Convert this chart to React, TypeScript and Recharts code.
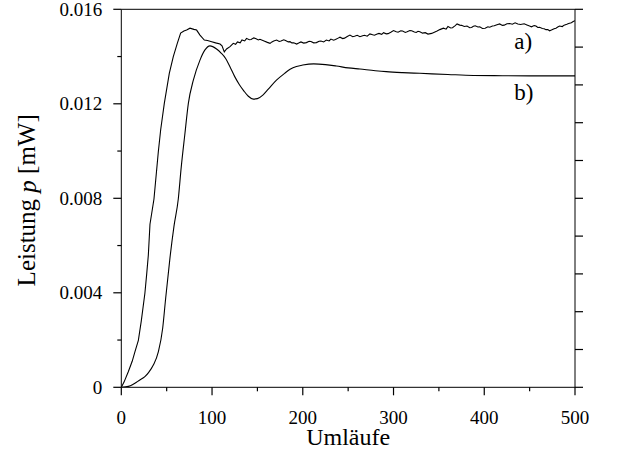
import React from 'react';
import { LineChart, Line, XAxis, YAxis, ReferenceDot } from 'recharts';

// curve a) (measured, noisy)
const umlaeufeA = [
  0, 3, 7.7, 12, 15, 18.8, 22, 26, 28, 29.8, 31.6, 36, 40.8, 43.4, 47.4, 52.9, 57.3, 61.7, 65.4, 69,
  72, 75.7, 80, 83, 86.7, 91.5, 95, 99.6, 104, 108.8, 111, 113.5, 116, 119.8, 123.4, 126, 128, 131, 133, 136,
  138, 141, 143, 146, 148, 151, 152.8, 156, 158, 161, 163.9, 166, 168, 171.2, 174, 176, 179, 181, 184, 185.9,
  188, 190, 193.3, 196, 198, 201, 204, 207, 209, 212, 215, 218, 220, 223, 226, 229, 231, 234, 236, 239,
  241, 244, 246, 249, 252, 255, 257, 260, 263, 266, 268, 271, 274, 277, 279, 282, 284, 287, 289, 292,
  294, 297, 300, 303, 305, 308, 310, 313, 315, 318, 320, 323, 325, 327, 329, 332, 335, 338, 342, 345,
  348, 351, 355, 358, 360, 363, 365, 368, 370, 373, 375, 378, 381, 384, 386, 388, 390, 393, 395, 398,
  401, 404, 406, 409, 411, 414, 417, 420, 422, 425, 428, 431, 434, 437, 440, 444, 447, 450, 452, 455,
  457, 459, 461, 464, 466, 468, 470, 472, 474, 477, 479, 481, 483, 486, 488, 491, 493, 496, 498, 500,
];
const leistungA = [
  0, 0.00022, 0.00066, 0.0011, 0.0015, 0.00199, 0.0028, 0.00398, 0.0048, 0.0056, 0.0069, 0.00797, 0.00997, 0.0109, 0.01202, 0.01329, 0.014, 0.01456, 0.01499, 0.01508,
  0.01512, 0.0152, 0.01515, 0.01512, 0.01491, 0.0147, 0.01468, 0.01463, 0.01458, 0.01453, 0.01445, 0.0142, 0.01432, 0.01442, 0.01456, 0.01452, 0.01462, 0.01458, 0.0147, 0.01466,
  0.01477, 0.01471, 0.01472, 0.01479, 0.01476, 0.0147, 0.01473, 0.01468, 0.01465, 0.0146, 0.01456, 0.01462, 0.01466, 0.0147, 0.01464, 0.01466, 0.01471, 0.01468, 0.01462, 0.01463,
  0.01458, 0.01458, 0.01453, 0.01458, 0.01462, 0.01457, 0.01459, 0.01465, 0.01464, 0.01458, 0.01459, 0.01465, 0.01466, 0.01462, 0.0147, 0.01466, 0.01474, 0.01469, 0.01472, 0.01478,
  0.01482, 0.01476, 0.01478, 0.01485, 0.01491, 0.01484, 0.01486, 0.0149, 0.01484, 0.01488, 0.0149, 0.01486, 0.01496, 0.01492, 0.0149, 0.01495, 0.01498, 0.01494, 0.01501, 0.01496,
  0.01497, 0.01503, 0.0151, 0.01505, 0.01503, 0.01509, 0.01508, 0.01502, 0.01505, 0.0151, 0.01509, 0.01504, 0.01502, 0.01507, 0.01505, 0.01499, 0.01501, 0.01495, 0.01498, 0.01503,
  0.01508, 0.01514, 0.0152, 0.01516, 0.01527, 0.01521, 0.01522, 0.01531, 0.01538, 0.01533, 0.01532, 0.01527, 0.01529, 0.01522, 0.01523, 0.01528, 0.0153, 0.01525, 0.01526, 0.01519,
  0.0152, 0.01526, 0.01524, 0.01529, 0.0153, 0.01535, 0.01538, 0.01532, 0.01533, 0.01539, 0.0154, 0.01537, 0.01543, 0.01538, 0.01536, 0.01539, 0.01534, 0.01529, 0.01526, 0.01531,
  0.01529, 0.01523, 0.01524, 0.01519, 0.01518, 0.01514, 0.01514, 0.01509, 0.01512, 0.01518, 0.0152, 0.01525, 0.01529, 0.01527, 0.01533, 0.01537, 0.0154, 0.01543, 0.01548, 0.01552,
];

// curve b) (simulation, smooth)
const umlaeufeB = [
  0, 5, 10, 15, 20, 26, 30, 35.3, 40.8, 45.6, 48.9, 53.7, 58, 62.8, 66, 70, 73.9, 79.4, 86.7, 92.2,
  97.7, 105, 110, 115, 120, 125, 130, 135, 140, 145.5, 150, 156, 162, 171, 180, 186, 193, 200, 212, 225,
  237, 250, 263, 280, 292, 310, 329, 360, 388, 420, 460, 500,
];
const leistungB = [
  0, 0.00002, 0.00007, 0.00017, 0.0003, 0.00045, 0.00062, 0.00094, 0.0015, 0.0025, 0.00377, 0.0055, 0.0068, 0.00797, 0.0093, 0.0107, 0.01202, 0.013, 0.01385, 0.01428,
  0.01445, 0.01432, 0.01415, 0.01392, 0.01355, 0.01315, 0.01282, 0.01255, 0.01232, 0.0122, 0.01222, 0.01237, 0.01262, 0.013, 0.01329, 0.01346, 0.01358, 0.01364, 0.01369, 0.01366,
  0.0136, 0.01352, 0.01347, 0.0134, 0.01336, 0.01332, 0.01329, 0.01324, 0.0132, 0.01319, 0.01318, 0.01318,
];

const xTicks = [0, 50, 100, 150, 200, 250, 300, 350, 400, 450, 500];
const yTicks = [0, 0.002, 0.004, 0.006, 0.008, 0.01, 0.012, 0.014, 0.016];
const yLabels = ['0', '', '0.004', '', '0.008', '', '0.012', '', '0.016'];
const topTicks = [0, 1, 2, 3, 4, 5, 6];
const rightTicks = [0, 1, 2, 3, 4, 5, 6, 7, 8, 9, 10];

const dataA = umlaeufeA.map((x, i) => ({ x, p: leistungA[i] }));
const dataB = umlaeufeB.map((x, i) => ({ x, p: leistungB[i] }));

const font = '"Liberation Serif", "Times New Roman", serif';
const ink = '#000';
const txt = { fontFamily: font };

const BottomTick = (props: any) => {
  const { x, y, payload } = props;
  const major = payload.value % 100 === 0;
  return (
    <g>
      <path d={`M${x},${y}V${y + (major ? 8 : 4)}`} stroke={ink} strokeWidth={1.2} />
      {major && (
        <text x={x} y={y + 36.5} textAnchor="middle" style={txt} fontSize={19} fill={ink}>
          {payload.value}
        </text>
      )}
    </g>
  );
};

const LeftTick = (props: any) => {
  const { x, y, index } = props;
  const label = yLabels[index];
  return (
    <g>
      <path d={`M${x - (label ? 8 : 4)},${y}H${x}`} stroke={ink} strokeWidth={1.2} />
      {label && (
        <text x={x - 19} y={y + 6.5} textAnchor="end" style={txt} fontSize={19} fill={ink}>
          {label}
        </text>
      )}
    </g>
  );
};

const TopTick = (props: any) => {
  const { x, y } = props;
  return <path d={`M${x},${y}V${y - 5}`} stroke={ink} strokeWidth={1.2} />;
};

const RightTick = (props: any) => {
  const { x, y } = props;
  return <path d={`M${x},${y}H${x + 8}`} stroke={ink} strokeWidth={1.2} />;
};

const renderXLabel = (props: any) => {
  const vb = props.viewBox;
  return (
    <text x={vb.x + vb.width / 2} y={vb.y + 58} textAnchor="middle" style={txt} fontSize={24} fill={ink}>
      Umläufe
    </text>
  );
};

const renderYLabel = (props: any) => {
  const vb = props.viewBox;
  const cx = 27;
  const cy = vb.y + vb.height / 2 + 2;
  return (
    <text
      x={cx}
      y={cy}
      transform={`rotate(-90, ${cx}, ${cy})`}
      textAnchor="middle"
      dominantBaseline="central"
      style={txt}
      fontSize={25}
      fill={ink}
    >
      Leistung <tspan fontStyle="italic">p</tspan> [mW]
    </text>
  );
};

const curveLabel = (text: string) => (props: any) => {
  const vb = props.viewBox;
  return (
    <text x={vb.x} y={vb.y} style={txt} fontSize={23} fill={ink}>
      {text}
    </text>
  );
};

export default function App() {
  return (
    <div style={{ position: 'absolute', left: 0, top: 0, background: '#fff', fontFamily: font }}>
      <LineChart width={621} height={465} margin={{ top: 8.3, right: 45, bottom: 0, left: 0 }}>
        <XAxis
          xAxisId="main"
          dataKey="x"
          type="number"
          domain={[0, 500]}
          allowDataOverflow
          ticks={xTicks}
          interval={0}
          height={77.7}
          tickSize={0}
          tickMargin={0}
          tickLine={false}
          axisLine={{ stroke: ink }}
          tick={BottomTick}
          label={renderXLabel}
        />
        <XAxis
          xAxisId="top"
          orientation="top"
          type="number"
          domain={[0, 6]}
          allowDataOverflow
          ticks={topTicks}
          interval={0}
          height={1}
          tickSize={0}
          tickMargin={0}
          tickLine={false}
          axisLine={{ stroke: ink }}
          tick={TopTick}
        />
        <YAxis
          yAxisId="main"
          type="number"
          domain={[0, 0.016]}
          allowDataOverflow
          ticks={yTicks}
          interval={0}
          width={121.3}
          tickSize={0}
          tickMargin={0}
          tickLine={false}
          axisLine={{ stroke: ink }}
          tick={LeftTick}
          label={renderYLabel}
        />
        <YAxis
          yAxisId="right"
          orientation="right"
          type="number"
          domain={[0, 10]}
          allowDataOverflow
          ticks={rightTicks}
          interval={0}
          width={1}
          tickSize={0}
          tickMargin={0}
          tickLine={false}
          axisLine={{ stroke: ink }}
          tick={RightTick}
        />
        <Line
          xAxisId="main"
          yAxisId="main"
          data={dataA}
          dataKey="p"
          type="linear"
          stroke={ink}
          strokeWidth={1.1}
          dot={false}
          isAnimationActive={false}
        />
        <Line
          xAxisId="main"
          yAxisId="main"
          data={dataB}
          dataKey="p"
          type="monotone"
          stroke={ink}
          strokeWidth={1.1}
          dot={false}
          isAnimationActive={false}
        />
        <ReferenceDot xAxisId="main" yAxisId="main" x={433} y={0.01432} r={0} fill="none" stroke="none" label={curveLabel('a)')} />
        <ReferenceDot xAxisId="main" yAxisId="main" x={433} y={0.01216} r={0} fill="none" stroke="none" label={curveLabel('b)')} />
      </LineChart>
    </div>
  );
}
